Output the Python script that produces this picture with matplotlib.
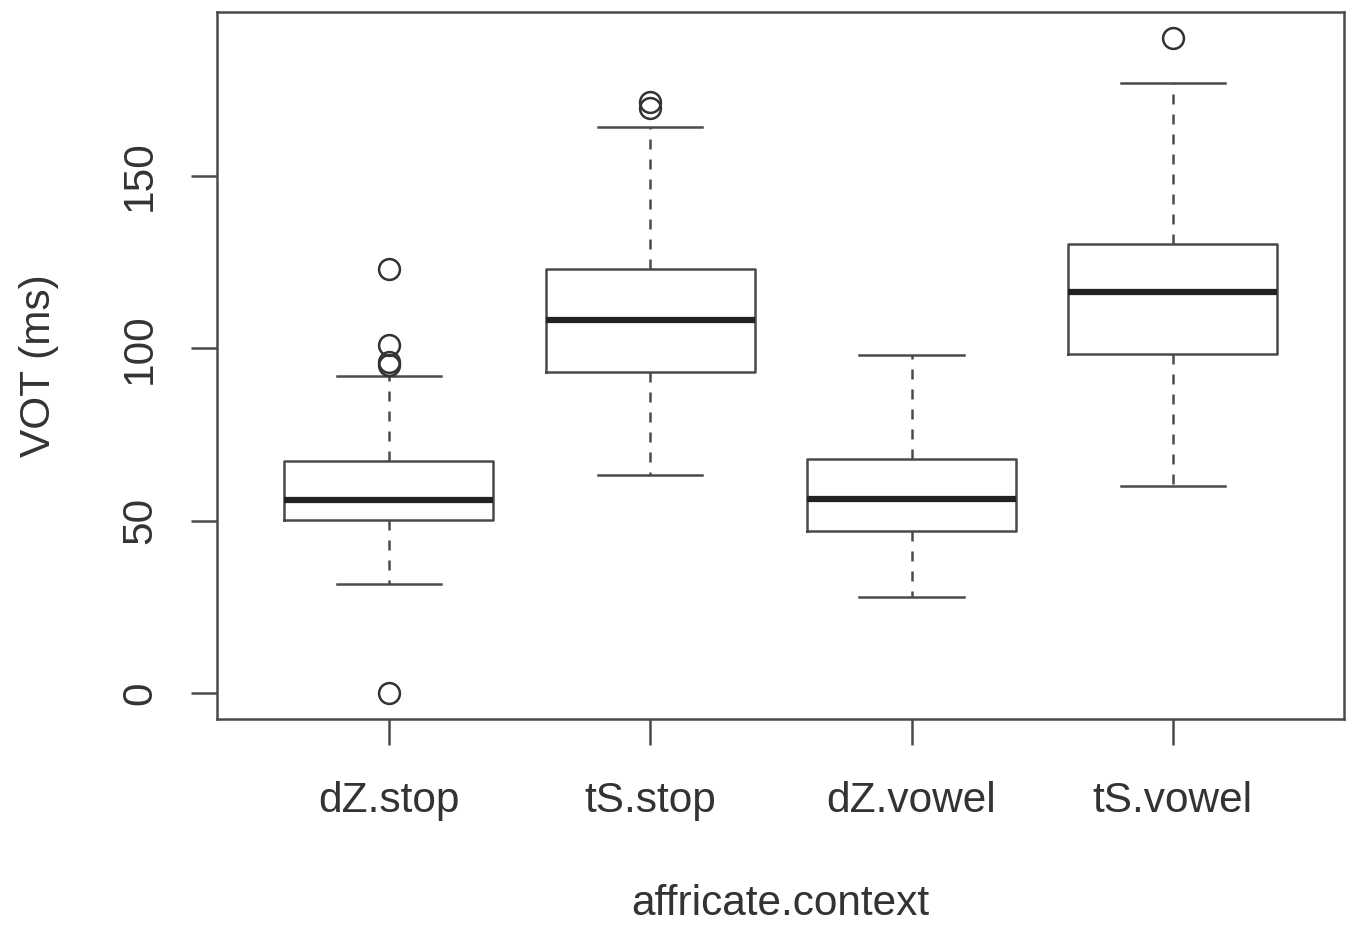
import matplotlib
matplotlib.use("Agg")
import matplotlib.pyplot as plt

# values (VOT in ms)
groups = ["dZ.stop", "tS.stop", "dZ.vowel", "tS.vowel"]
whisker_low = [31.6, 63.2, 27.9, 60.0]
q1 = [50.2, 93.1, 47.0, 98.3]
median = [56.0, 108.2, 56.3, 116.3]
q3 = [67.3, 123.0, 67.9, 130.3]
whisker_high = [92.0, 164.2, 98.0, 177.0]
outliers = [
    [123.0, 101.0, 96.0, 95.2, 0.0],
    [171.5, 169.7],
    [],
    [190.0],
]

stats = []
for i, name in enumerate(groups):
    stats.append({
        "label": name,
        "whislo": whisker_low[i],
        "q1": q1[i],
        "med": median[i],
        "q3": q3[i],
        "whishi": whisker_high[i],
        "fliers": outliers[i],
    })

plt.rcParams["font.family"] = ["Liberation Sans", "DejaVu Sans"]
line_col = "#4a4a4a"

fig = plt.figure(figsize=(13.53, 9.3), dpi=100)
ax = fig.add_axes([0.1604, 0.2269, 0.8329, 0.7602])

ax.bxp(
    stats,
    widths=0.8,
    showfliers=True,
    patch_artist=False,
    boxprops=dict(color=line_col, linewidth=1.8),
    medianprops=dict(color="#222222", linewidth=4.5, solid_capstyle="butt"),
    whiskerprops=dict(color=line_col, linewidth=1.8, linestyle=(0, (4, 4))),
    capprops=dict(color=line_col, linewidth=1.8),
    capwidths=0.4,
    flierprops=dict(marker="o", markersize=15, markerfacecolor="none",
                    markeredgecolor="#333333", markeredgewidth=1.8),
)

ax.set_xlim(0.342, 4.655)
ax.set_ylim(-7.5, 197.6)
ax.set_yticks([0, 50, 100, 150])
ax.set_yticklabels(["0", "50", "100", "150"], rotation=90, va="center")
ax.set_xticks([1, 2, 3, 4])
ax.set_xticklabels(groups)

for s in ax.spines.values():
    s.set_color(line_col)
    s.set_linewidth(1.8)

ax.tick_params(axis="both", labelsize=30.5, colors="#333333", length=19,
               width=1.8, color=line_col)
ax.tick_params(axis="x", pad=26)
ax.tick_params(axis="y", pad=22)

ax.set_xlabel("affricate.context", fontsize=30.5, color="#333333", labelpad=45)
ax.set_ylabel("VOT (ms)", fontsize=30.5, color="#333333", labelpad=44)

fig.savefig("out.png", dpi=100)
